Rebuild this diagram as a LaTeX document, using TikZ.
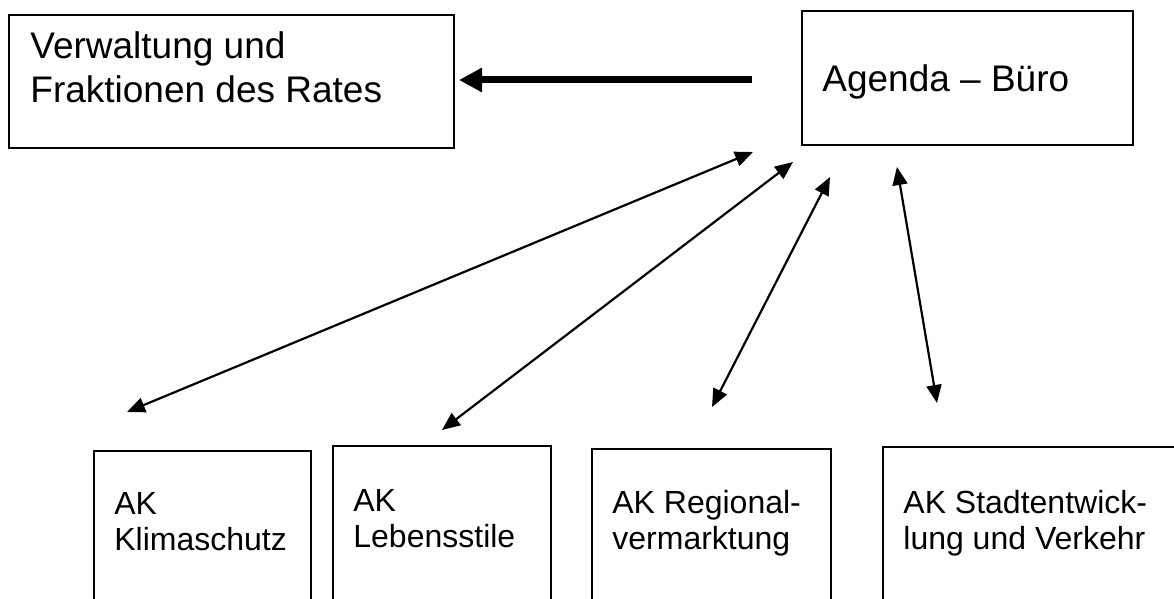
\documentclass[tikz,border=0pt]{standalone}
\usepackage{fontspec}
\setmainfont{Liberation Sans}
\usetikzlibrary{arrows.meta}

\tikzset{
	kasten/.style={draw,line width=1pt,inner sep=0pt,anchor=north west},
	gross/.style={anchor=base west,inner sep=0pt,align=left,font=\fontsize{18.5}{22}\selectfont},
	klein/.style={anchor=base west,inner sep=0pt,align=left,font=\fontsize{16}{18}\selectfont},
	pfeil/.style={line width=1.1pt,{Triangle[length=9pt,width=7.5pt]}-{Triangle[length=9pt,width=7.5pt]}},
	dickpfeil/.style={line width=3.5pt,-{Triangle[length=11.5pt,width=11.5pt]}}
}

\begin{document}
\begin{tikzpicture}[x=0.5pt,y=-0.5pt]
	\clip (0,0) rectangle (1174,599);
	\node[kasten,minimum width=222.5pt,minimum height=66.5pt] (verw) at (8,14) {};
	\node[gross] (verwtext) at (30,103) {Verwaltung und\\Fraktionen des Rates};
	\node[kasten,minimum width=165.5pt,minimum height=67pt] (agenda) at (801,10) {};
	\node[gross] (agendatext) at (822,92) {Agenda -- Büro};
	\draw[dickpfeil,shorten <=24.5pt,shorten >=2pt] (agenda.west |- 0,80) -- (verw.east |- 0,80);
	\foreach \n/\x/\y/\w/\t/\b in {
		klima/93/450/108.5/{AK\\Klimaschutz}/550,
		leben/332/445/109/{AK\\Lebensstile}/547,
		regio/591/448/119.5/{AK Regional-\\vermarktung}/549,
		stadt/882/446/170/{AK Stadtentwick-\\lung und Verkehr}/549}{
		\node[kasten,minimum width=\w pt,minimum height=100pt] (\n) at (\x,\y) {};
		\node[klein] (\n text) at (\x+21,\b) {\t};
	}
	\coordinate (o1) at (753,152);
	\coordinate (o2) at (793,162);
	\coordinate (o3) at (830,177);
	\coordinate (o4) at (897,167);
	\coordinate (u1) at (127,412);
	\coordinate (u2) at (442,430);
	\coordinate (u3) at (712,407);
	\coordinate (u4) at (937,403);
	\foreach \i in {1,...,4}{
		\draw[pfeil] (o\i) -- (u\i);
	}
\end{tikzpicture}
\end{document}
